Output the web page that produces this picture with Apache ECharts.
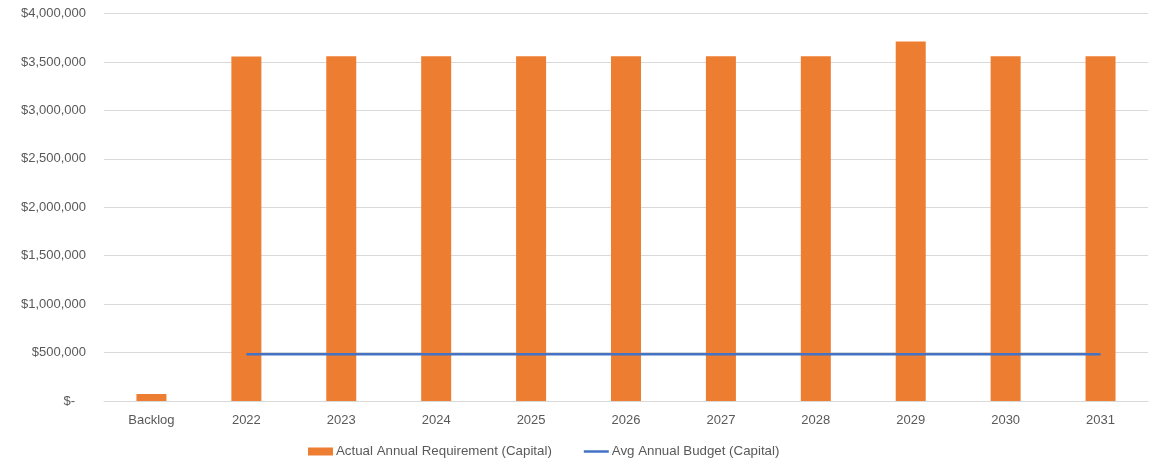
<!DOCTYPE html>
<html>
<head>
<meta charset="utf-8">
<script src="https://cdn.jsdelivr.net/npm/echarts@6/dist/echarts.min.js"></script>
<style>html,body{margin:0;padding:0;background:#fff;}#c{width:1160px;height:464px;}</style>
</head>
<body>
<div id="c"></div>
<script>
var categories = ['Backlog','2022','2023','2024','2025','2026','2027','2028','2029','2030','2031'];
var requirement = [72000,3555000,3560000,3560000,3560000,3560000,3560000,3560000,3710000,3560000,3560000];
var budget = ['-',482000,482000,482000,482000,482000,482000,482000,482000,482000,482000];
var seriesNames = ['Actual Annual Requirement (Capital)','Avg Annual Budget (Capital)'];

var chart = echarts.init(document.getElementById('c'), null, {renderer:'canvas'});
chart.setOption({
  animation:false,
  textStyle:{fontFamily:'"Liberation Sans", Arial, sans-serif'},
  grid:{left:104, right:12, top:13.5, bottom:63},
  legend:{
    top:445, left:308, padding:0, itemGap:32, itemWidth:25, itemHeight:8,
    textStyle:{color:'#595959', fontSize:13.3, padding:[0,0,0,-2]},
    data:[
      {name:seriesNames[0], icon:'rect'},
      {name:seriesNames[1], icon:'path://M0,0 H25 V2.5 H0 Z'}
    ]
  },
  xAxis:{
    type:'category', data:categories,
    axisLine:{lineStyle:{color:'#d9d9d9', width:1}},
    axisTick:{show:false},
    axisLabel:{color:'#595959', fontSize:13, margin:13}
  },
  yAxis:{
    type:'value', min:0, max:4000000, interval:500000,
    axisLine:{show:false}, axisTick:{show:false},
    splitLine:{lineStyle:{color:'#d9d9d9', width:1}},
    axisLabel:{color:'#595959', fontSize:13, margin:18,
      formatter:function(v){ return v===0 ? '$-   ' : '$' + v.toLocaleString('en-US'); }}
  },
  series:[
    {name:seriesNames[0], type:'bar', data:requirement, barWidth:30,
     itemStyle:{color:'#ED7D31'}},
    {name:seriesNames[1], type:'line', data:budget, symbol:'none',
     lineStyle:{color:'#4472C4', width:2.5}, itemStyle:{color:'#4472C4'}}
  ]
});
</script>
</body>
</html>
